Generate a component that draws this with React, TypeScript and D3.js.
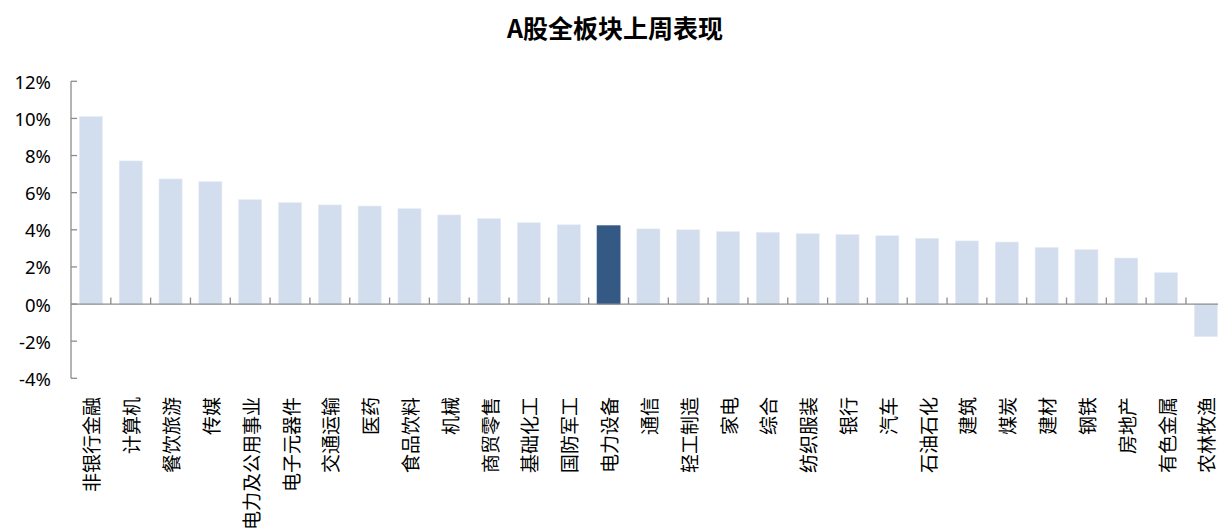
import React from "react";
import * as d3 from "d3";

const categories = [
  "非银行金融", "计算机", "餐饮旅游", "传媒", "电力及公用事业", "电子元器件", "交通运输", "医药",
  "食品饮料", "机械", "商贸零售", "基础化工", "国防军工", "电力设备", "通信", "轻工制造",
  "家电", "综合", "纺织服装", "银行", "汽车", "石油石化", "建筑", "煤炭", "建材", "钢铁",
  "房地产", "有色金属", "农林牧渔",
];
const values = [
  10.1, 7.71, 6.74, 6.59, 5.62, 5.46, 5.34, 5.28, 5.14, 4.8, 4.6, 4.38, 4.27, 4.22, 4.05,
  4.0, 3.9, 3.86, 3.79, 3.74, 3.68, 3.54, 3.4, 3.34, 3.05, 2.93, 2.48, 1.69, -1.76,
];
const highlight = "电力设备";
const yTicks = [-4, -2, 0, 2, 4, 6, 8, 10, 12];
const title = "A股全板块上周表现";

const W = 1218;
const H = 528;

export default function App() {
  const padInner = 0.42;
  const x = d3
    .scaleBand<string>()
    .domain(categories)
    .range([71, 1225.8])
    .paddingInner(padInner)
    .paddingOuter(padInner / 2);
  const y = d3.scaleLinear().domain([-4, 12]).range([378.3, 81.3]);
  const step = x.step();
  const bw = x.bandwidth();
  const axisColor = "#8c8c8c";
  const cjk = "'Noto Sans CJK SC', 'Noto Sans', sans-serif";
  const latin = "'Noto Sans', 'Noto Sans CJK SC', sans-serif";

  return (
    <svg
      width={W}
      height={H}
      style={{ position: "absolute", left: 0, top: 0, background: "#fff" }}
    >
      <text
        x={615}
        y={27}
        textAnchor="middle"
        dominantBaseline="central"
        fontFamily={cjk}
        fontWeight={700}
        fontSize={25}
        fill="#000"
      >
        {title}
      </text>

      {categories.map((c, i) => {
        const v = values[i];
        const y0 = y(0);
        const yv = y(v);
        return (
          <rect
            key={c}
            x={x(c)}
            y={Math.min(y0, yv)}
            width={bw}
            height={Math.abs(yv - y0)}
            fill={c === highlight ? "#355985" : "#D2DDED"}
            stroke={c === highlight ? "#355985" : "#E6ECF6"}
            strokeWidth={0.6}
          />
        );
      })}

      {/* y axis */}
      <line x1={71} x2={71} y1={y(12)} y2={y(-4)} stroke={axisColor} strokeWidth={1.3} />
      {yTicks.map((t) => (
        <g key={t}>
          <line x1={71} x2={77} y1={y(t)} y2={y(t)} stroke={axisColor} strokeWidth={1.3} />
          <text
            x={51}
            y={y(t)}
            textAnchor="end"
            dominantBaseline="central"
            fontFamily={latin}
            fontSize={18.5}
            fill="#000"
          >
            {`${t}%`}
          </text>
        </g>
      ))}

      {/* x axis at zero */}
      <line x1={71} x2={1218} y1={y(0)} y2={y(0)} stroke={axisColor} strokeWidth={1.3} />
      {categories.slice(1).map((c) => {
        const bx = (x(c) as number) - (step * padInner) / 2;
        return (
          <line
            key={"t" + c}
            x1={bx}
            x2={bx}
            y1={y(0)}
            y2={y(0) - 6.5}
            stroke={axisColor}
            strokeWidth={1.3}
          />
        );
      })}

      {/* category labels */}
      {categories.map((c) => {
        const cx = (x(c) as number) + bw / 2;
        return (
          <text
            key={"l" + c}
            transform={`translate(${cx},${397}) rotate(-90)`}
            textAnchor="end"
            dominantBaseline="central"
            fontFamily={cjk}
            fontSize={19}
            fill="#000"
          >
            {c}
          </text>
        );
      })}
    </svg>
  );
}
